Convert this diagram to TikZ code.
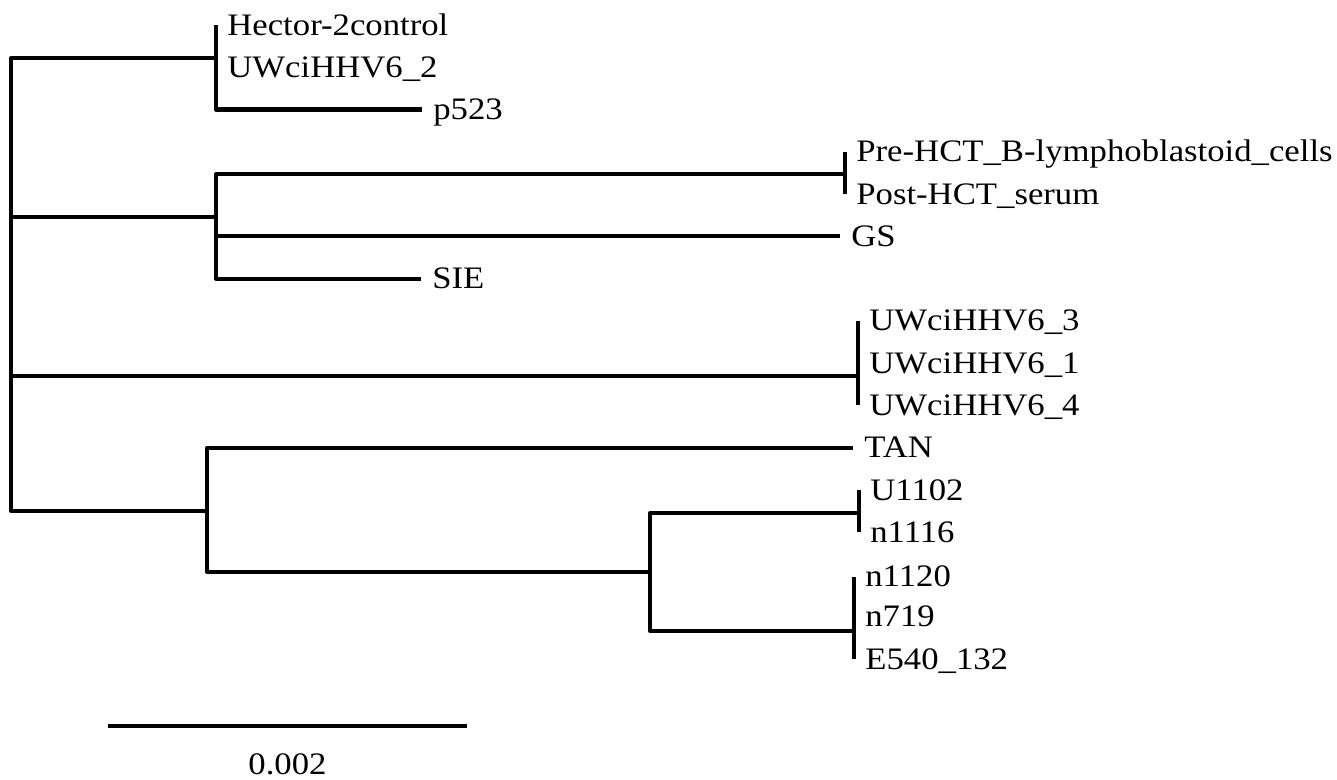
\documentclass[tikz,border=0pt]{standalone}
\usepackage{fontspec}
\setmainfont{Liberation Serif}[FakeStretch=1.11]
\usetikzlibrary{positioning, calc}

\begin{document}
\begin{tikzpicture}[
    x=0.02cm, y=-0.02cm,
    branch/.style={draw=black, line width=2.3pt, line join=round},
    taxon/.style={anchor=west, inner xsep=0.22cm, inner ysep=0pt, text height=0.4cm, text depth=0cm, font=\fontsize{17.8pt}{21pt}\selectfont},
    scaletext/.style={inner sep=0pt, font=\fontsize{17.8pt}{21pt}\selectfont}
]
    \useasboundingbox (0,0) rectangle (1337,779);

    % Internal nodes
    \coordinate (root) at (11,376);
    \coordinate (c1) at (216,58);
    \coordinate (c2) at (216,217);
    \coordinate (hct) at (845,174);
    \coordinate (c3) at (858,376);
    \coordinate (c4) at (207,511);
    \coordinate (c5) at (650,572);
    \coordinate (c6) at (859,513);
    \coordinate (c7) at (854,631);

    % Taxa
    \node[taxon] (hector) at (216,25) {Hector-2control};
    \node[taxon] (uw2) at (216,67.3) {UWciHHV6\_2};
    \node[taxon] (p523) at (422,109.5) {p523};
    \node[taxon] (prehct) at (845,151.8) {Pre-HCT\_B-lymphoblastoid\_cells};
    \node[taxon] (posthct) at (845,194.1) {Post-HCT\_serum};
    \node[taxon] (gs) at (840,236.4) {GS};
    \node[taxon] (sie) at (421,278.6) {SIE};
    \node[taxon] (uw3) at (858,320.9) {UWciHHV6\_3};
    \node[taxon] (uw1) at (858,363.2) {UWciHHV6\_1};
    \node[taxon] (uw4) at (858,405.4) {UWciHHV6\_4};
    \node[taxon] (tan) at (853,447.7) {TAN};
    \node[taxon] (u1102) at (859,490) {U1102};
    \node[taxon] (n1116) at (859,532.2) {n1116};
    \node[taxon] (n1120) at (854,576.5) {n1120};
    \node[taxon] (n719) at (854,616.8) {n719};
    \node[taxon] (e540) at (854,659.1) {E540\_132};

    % Branches
    \draw[branch] (root) |- (c1);
    \draw[branch] (root) |- (c2);
    \draw[branch] (root) |- (c3);
    \draw[branch] (root) |- (c4);

    \draw[branch] (c1) |- (hector.west);
    \draw[branch] (c1) |- (uw2.west);
    \draw[branch] (c1) |- (p523.west);

    \draw[branch] (c2) |- (hct);
    \draw[branch] (c2) |- (gs.west);
    \draw[branch] (c2) |- (sie.west);
    \draw[branch] (hct) |- (prehct.west);
    \draw[branch] (hct) |- (posthct.west);

    \draw[branch] (c3) |- (uw3.west);
    \draw[branch] (c3) |- (uw1.west);
    \draw[branch] (c3) |- (uw4.west);

    \draw[branch] (c4) |- (tan.west);
    \draw[branch] (c4) |- (c5);
    \draw[branch] (c5) |- (c6);
    \draw[branch] (c5) |- (c7);
    \draw[branch] (c6) |- (u1102.west);
    \draw[branch] (c6) |- (n1116.west);
    \draw[branch] (c7) |- (n1120.west);
    \draw[branch] (c7) |- (n719.west);
    \draw[branch] (c7) |- (e540.west);

    % Scale bar
    \coordinate (bar-l) at (108,726);
    \coordinate (bar-r) at (467,726);
    \draw[branch] (bar-l) -- (bar-r);
    \node[scaletext] (barlabel) at ($(bar-l)!0.5!(bar-r)+(0,38)$) {0.002};

\end{tikzpicture}
\end{document}
